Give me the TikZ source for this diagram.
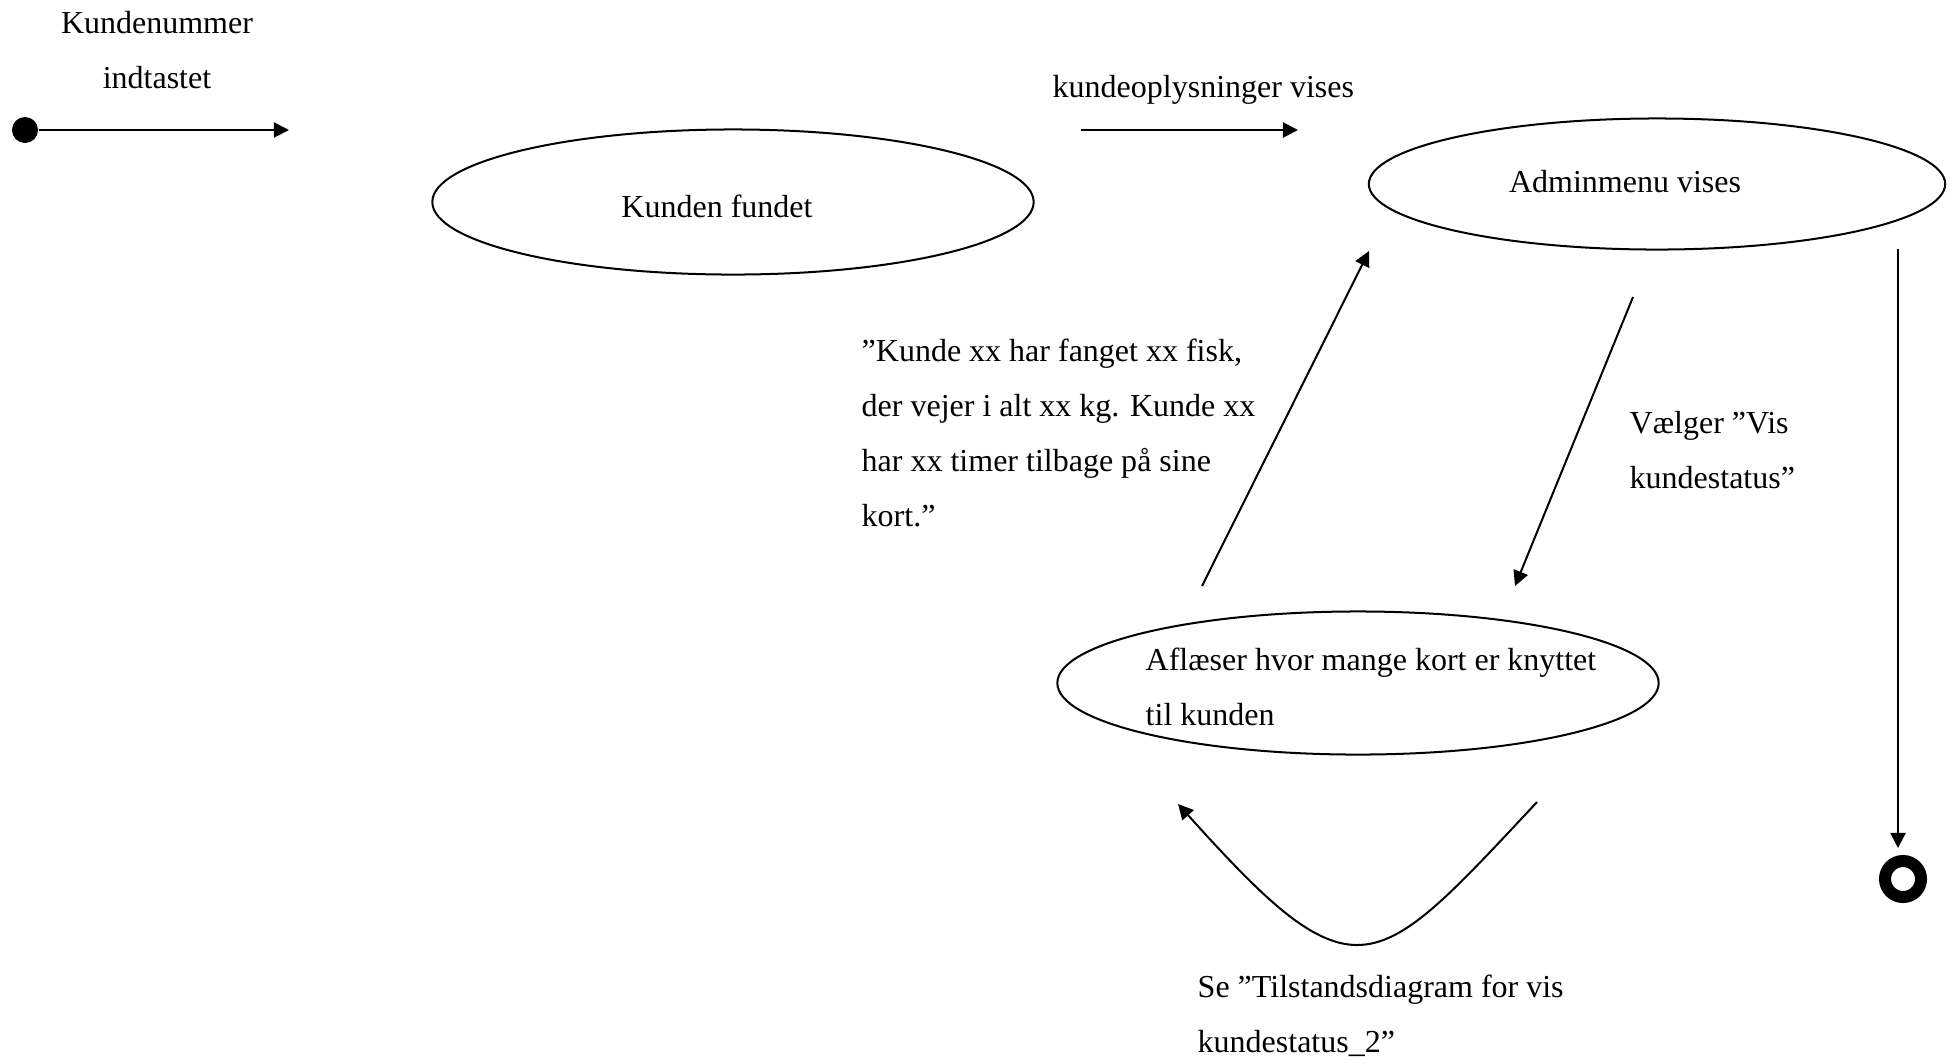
\documentclass[tikz,border=0pt]{standalone}
\usepackage{fontspec}
\setmainfont{Liberation Serif}
\usetikzlibrary{arrows.meta,shapes.geometric}
\tikzset{
  tilstand/.style={ellipse,draw,line width=0.57pt,inner sep=0pt},
  tekst/.style={inner sep=0pt,font=\fontsize{9.1}{15.6}\selectfont},
  pil/.style={line width=0.57pt,-{Triangle[length=4.3pt,width=4.3pt]}},
}
\begin{document}
\begin{tikzpicture}[x=0.01cm,y=-0.01cm]
\useasboundingbox (0,0) rectangle (1955,1063);
% start og slut
\node[circle,fill,minimum size=0.26cm,inner sep=0pt] (start) at (25,130) {};
\node[circle,draw,line width=0.12cm,minimum size=0.36cm,inner sep=0pt] (slut) at (1903,879) {};
% tilstande
\node[tilstand,minimum width=6.01cm,minimum height=1.45cm] (fundet) at (733,202) {};
\node[tilstand,minimum width=5.76cm,minimum height=1.31cm] (admin) at (1657,184) {};
\node[tilstand,minimum width=6.01cm,minimum height=1.43cm] (aflaeser) at (1358,683) {};
\node[tekst,anchor=base] at (717,217) {Kunden fundet};
\node[tekst,anchor=base] at (1625,192) {Adminmenu vises};
\node[tekst,anchor=base west,align=left] at (1145,725) {Aflæser hvor mange kort er knyttet\\til kunden};
% pilenes ender
\coordinate (p1) at (289,130);
\coordinate (p2a) at (1081,130);
\coordinate (p2b) at (1298,130);
\coordinate (p3a) at (1633,297);
\coordinate (p3b) at (1515,586);
\coordinate (p4a) at (1202,586);
\coordinate (p4b) at (1369,251);
\coordinate (p5a) at (1537,802);
\coordinate (p5b) at (1178,804);
\coordinate (p6) at (1898,249);
\coordinate (p6b) at (1898,848);
% overgange
\draw[pil] (start) -- (p1);
\draw[pil] (p2a) -- (p2b);
\draw[pil] (p3a) -- (p3b);
\draw[pil] (p4a) -- (p4b);
\draw[pil] (p5a) .. controls (1450,895) and (1405,945) .. (1357,945) .. controls (1310,945) and (1260,895) .. (p5b);
\draw[pil] (p6) -- (p6b);
% tekster til overgange
\node[tekst,anchor=base,align=center] at (157,88) {Kundenummer\\indtastet};
\node[tekst,anchor=base west] at (1052,97) {kundeoplysninger vises};
\node[tekst,anchor=base west,align=left] at (1629,488) {Vælger ”Vis\\kundestatus”};
\node[tekst,anchor=base west,align=left] at (861,526) {”Kunde xx har fanget xx fisk,\\der vejer i alt xx kg. Kunde xx\\har xx timer tilbage på sine\\kort.”};
\node[tekst,anchor=base west,align=left] at (1197,1052) {Se ”Tilstandsdiagram for vis\\kundestatus\_2”};
\end{tikzpicture}
\end{document}
